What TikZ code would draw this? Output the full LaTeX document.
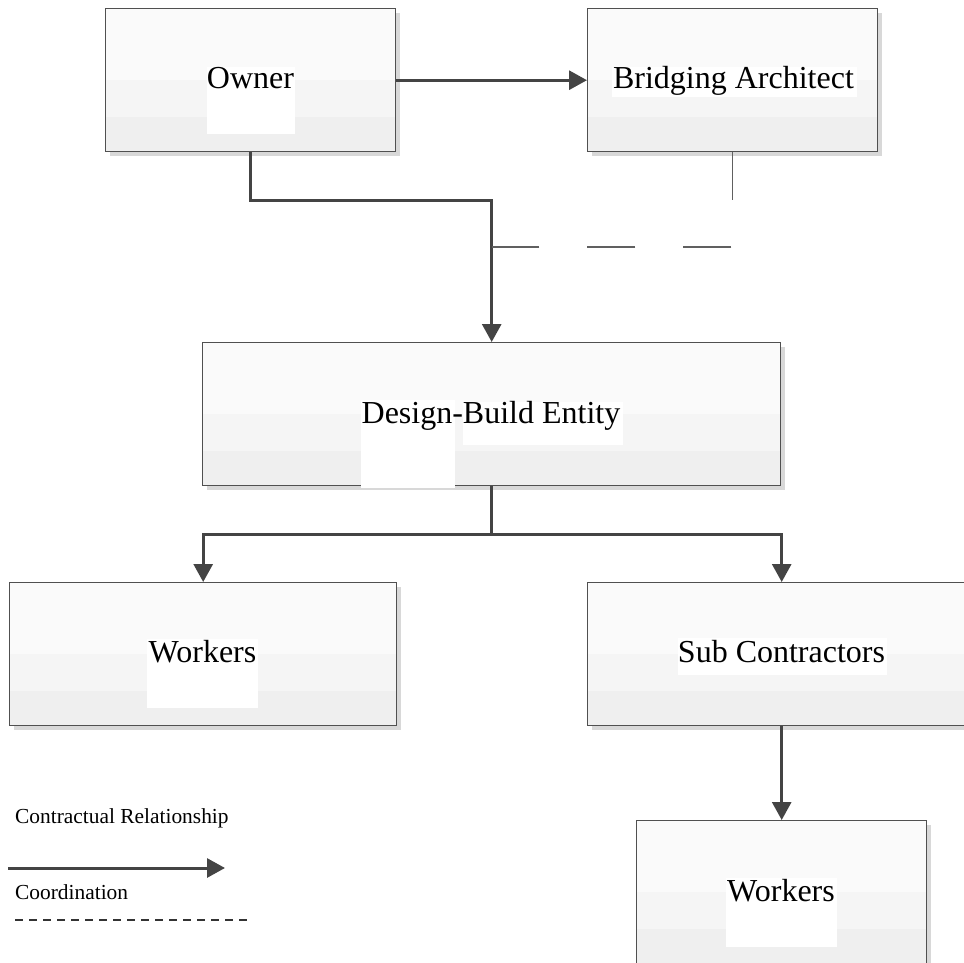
\documentclass[tikz,border=0pt]{standalone}
\usepackage{fontspec}
\setmainfont{Liberation Serif}
\usetikzlibrary{arrows.meta,shadows,calc}
\definecolor{bandA}{HTML}{FAFAFA}
\definecolor{bandB}{HTML}{F5F5F5}
\definecolor{bandC}{HTML}{EFEFEF}
\definecolor{boxline}{HTML}{505050}
\definecolor{shade}{HTML}{D8D8D8}
\definecolor{connc}{HTML}{444444}
\begin{document}
\begin{tikzpicture}[x=1pt,y=-1pt,
  gbox/.style={rectangle, draw=boxline, line width=1.4pt, fill=bandA,
    inner sep=0pt, anchor=north west, minimum height=143pt, minimum width=#1,
    drop shadow={shadow xshift=4pt,shadow yshift=-4pt,fill=shade,opacity=1},
    path picture={
      \fill[bandB] ($(path picture bounding box.south west)!0.5!(path picture bounding box.north west)$) rectangle (path picture bounding box.south east);
      \fill[bandC] ($(path picture bounding box.south west)!0.245!(path picture bounding box.north west)$) rectangle (path picture bounding box.south east);}},
  lbl/.style={anchor=base, inner sep=0pt, font=\fontsize{32}{36}\selectfont},
  leg/.style={anchor=base west, inner sep=0pt, font=\fontsize{21.4}{25}\selectfont},
  patch/.style={fill=white},
  conn/.style={draw=connc, line width=3pt, -{Triangle[width=19pt,length=18pt]}},
  plain/.style={draw=connc, line width=3pt},
  coordline/.style={draw=connc!85, line width=1.5pt, dash pattern=on 48pt off 48pt},
  legdash/.style={draw=black!80, line width=2pt, dash pattern=on 8pt off 6pt}
]
\useasboundingbox (0,0) rectangle (964,963);
\clip (0,0) rectangle (964,963);

% boxes
\node[gbox=290pt] (owner) at (105,8) {};
\node[gbox=290pt] (bridge) at (587,8) {};
\node[gbox=578pt] (db) at (202,342) {};
\node[gbox=387pt] (wk1) at (9,582) {};
\node[gbox=388pt] (sub) at (587,582) {};
\node[gbox=290pt] (wk2) at (636,820) {};

% white patches behind the texts
\path[patch] (207,67) rectangle (295,134);
\path[patch] (612,67) rectangle (857,97);
\path[patch] (361,400) rectangle (455,488);
\path[patch] (463,402) rectangle (623,445);
\path[patch] (147,639) rectangle (258,708);
\path[patch] (678,638) rectangle (887,675);
\path[patch] (726,878) rectangle (837,947);

% texts
\node[lbl] (ownerT) at (250.5,89) {Owner};
\node[lbl] (bridgeT) at (733.5,89) {Bridging Architect};
\node[lbl] (dbT) at (491,423) {Design-Build Entity};
\node[lbl] (wk1T) at (202.5,662) {Workers};
\node[lbl] (subT) at (781.5,662) {Sub Contractors};
\node[lbl] (wk2T) at (781,901) {Workers};

% connectors
\draw[conn] (owner.east) -- (bridge.west);
\draw[conn] (owner.south) -- ++(0,48) -| (db.north);
\draw[coordline] (bridge.south) |- ([yshift=95pt]db.north);
\draw[plain] (db.south) -- ++(0,48) coordinate (split);
\draw[conn] (split) -| (wk1.north);
\draw[conn] (split) -| (sub.north);
\draw[conn] (sub.south) -- (wk2.north);

% legend
\node[leg] (legA) at (15,823) {Contractual Relationship};
\node[leg] (legB) at (15,899) {Coordination};
\coordinate (la1) at (8,868);
\coordinate (la2) at (225,868);
\draw[conn] (la1) -- (la2);
\coordinate (ld1) at (15,920);
\coordinate (ld2) at (247,920);
\draw[legdash] (ld1) -- (ld2);
\end{tikzpicture}
\end{document}
